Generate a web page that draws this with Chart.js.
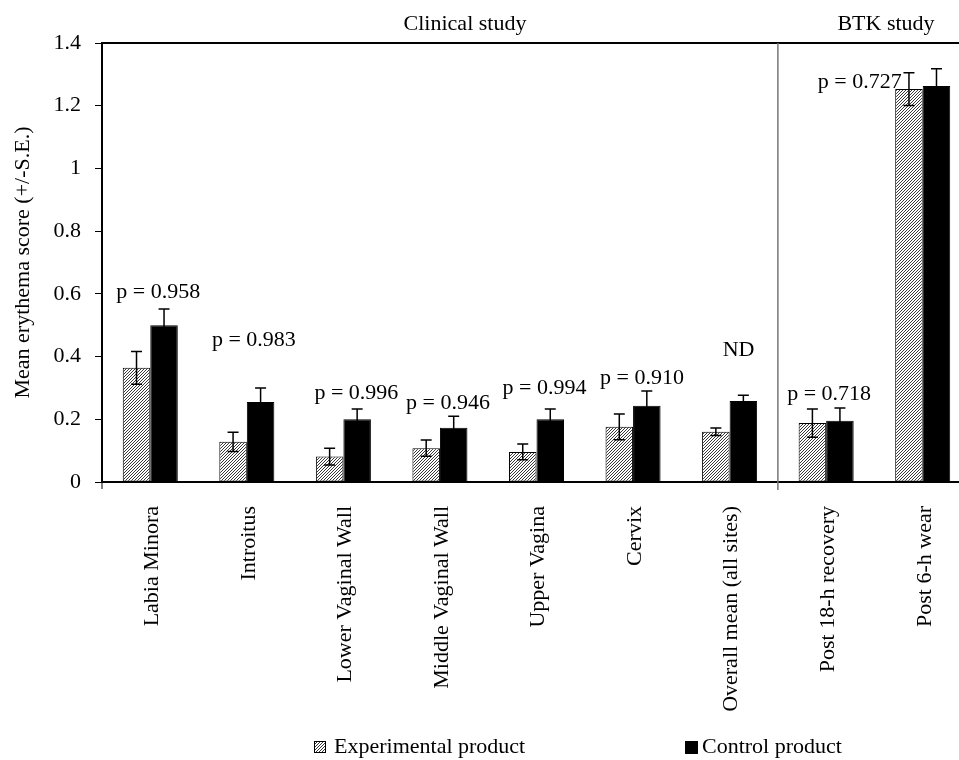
<!DOCTYPE html>
<html>
<head>
<meta charset="utf-8">
<script src="https://cdn.jsdelivr.net/npm/chart.js@4/dist/chart.umd.min.js"></script>
<style>
  body { margin: 0; background: #fff; overflow: hidden; }
  #wrap { width: 959px; height: 760px; overflow: hidden; }
</style>
</head>
<body>
<div id="wrap"><canvas id="barChart" width="971" height="760"></canvas></div>
<script>
/* data */
const categories = ["Labia Minora", "Introitus", "Lower Vaginal Wall", "Middle Vaginal Wall",
  "Upper Vagina", "Cervix", "Overall mean (all sites)", "Post 18-h recovery", "Post 6-h wear"];
const experimental   = [0.364, 0.128, 0.081, 0.108, 0.096, 0.176, 0.160, 0.188, 1.253];
const experimentalSE = [0.052, 0.031, 0.027, 0.026, 0.025, 0.041, 0.012, 0.045, 0.052];
const control        = [0.500, 0.255, 0.200, 0.173, 0.200, 0.243, 0.258, 0.195, 1.263];
const controlSE      = [0.052, 0.045, 0.033, 0.037, 0.033, 0.047, 0.019, 0.041, 0.055];
const pLabels = ["p = 0.958", "p = 0.983", "p = 0.996", "p = 0.946", "p = 0.994",
  "p = 0.910", "ND", "p = 0.718", "p = 0.727"];
const yTicks = ["0", "0.2", "0.4", "0.6", "0.8", "1", "1.2", "1.4"];
const studies = ["Clinical study", "BTK study"];

// where the p labels sit (value units) and a small sideways nudge (px)
const pLabelAt = [0.606, 0.453, 0.284, 0.252, 0.300, 0.332, 0.421, 0.281, 1.276];
const pLabelDx = [8, 7, 13, 8, 8, 9, 9, 3, -63];

const FONT = "'Liberation Serif', 'Times New Roman', serif";

function hatch() {
  const c = document.createElement("canvas");
  c.width = 3; c.height = 3;
  const g = c.getContext("2d");
  g.fillStyle = "#fff";
  g.fillRect(0, 0, 3, 3);
  g.strokeStyle = "#222";
  g.lineWidth = 0.9;
  g.beginPath();
  g.moveTo(0, 3); g.lineTo(3, 0);
  g.moveTo(-1, 1); g.lineTo(1, -1);
  g.moveTo(2, 4); g.lineTo(4, 2);
  g.stroke();
  return g.createPattern(c, "repeat");
}
const hatchFill = hatch();

// error bars, p labels, section line and titles, legend
const extras = {
  id: "extras",
  afterDatasetsDraw(chart) {
    const ctx = chart.ctx;
    const y = chart.scales.y;
    const ses = [experimentalSE, controlSE];
    ctx.save();
    ctx.strokeStyle = "#000";
    ctx.lineWidth = 1.5;
    chart.data.datasets.forEach((ds, di) => {
      chart.getDatasetMeta(di).data.forEach((bar, i) => {
        const v = ds.data[i], se = ses[di][i];
        const top = y.getPixelForValue(v + se), bot = y.getPixelForValue(v - se);
        ctx.beginPath();
        ctx.moveTo(bar.x, top); ctx.lineTo(bar.x, bot);
        ctx.moveTo(bar.x - 5.5, top); ctx.lineTo(bar.x + 5.5, top);
        ctx.moveTo(bar.x - 5.5, bot); ctx.lineTo(bar.x + 5.5, bot);
        ctx.stroke();
      });
    });
    ctx.restore();
  },
  afterDraw(chart) {
    const ctx = chart.ctx;
    const x = chart.scales.x, y = chart.scales.y;
    const area = chart.chartArea;
    ctx.save();
    // top frame line
    ctx.strokeStyle = "#000";
    ctx.lineWidth = 2;
    ctx.beginPath();
    ctx.moveTo(area.left, area.top); ctx.lineTo(chart.width, area.top);
    ctx.stroke();
    // left tick under the x axis
    ctx.lineWidth = 1;
    ctx.beginPath();
    ctx.moveTo(area.left, area.bottom); ctx.lineTo(area.left, area.bottom + 7);
    ctx.stroke();
    // study separator
    const sep = (x.getPixelForValue(6) + x.getPixelForValue(7)) / 2;
    ctx.strokeStyle = "#777";
    ctx.lineWidth = 1.5;
    ctx.beginPath();
    ctx.moveTo(sep, area.top); ctx.lineTo(sep, area.bottom + 8);
    ctx.stroke();

    ctx.fillStyle = "#000";
    ctx.textAlign = "center";
    ctx.textBaseline = "middle";
    ctx.font = "22px " + FONT;
    ctx.fillText(studies[0], 465, 24);
    ctx.fillText(studies[1], 886, 24);

    pLabels.forEach((t, i) => {
      ctx.fillText(t, x.getPixelForValue(i) + pLabelDx[i], y.getPixelForValue(pLabelAt[i]));
    });

    // legend
    const ly = 747;
    ctx.font = "22px " + FONT;
    ctx.textAlign = "left";
    ctx.fillStyle = hatchFill;
    ctx.fillRect(314, ly - 6, 12, 12);
    ctx.strokeStyle = "#000";
    ctx.lineWidth = 1;
    ctx.strokeRect(314.5, ly - 5.5, 11, 11);
    ctx.fillStyle = "#000";
    ctx.fillText(chart.data.datasets[0].label, 334, ly);
    ctx.fillRect(685, ly - 6, 13, 13);
    ctx.fillText(chart.data.datasets[1].label, 702, ly);
    ctx.restore();
  }
};

new Chart(document.getElementById("barChart"), {
  type: "bar",
  data: {
    labels: categories,
    datasets: [
      {
        label: "Experimental product",
        data: experimental,
        backgroundColor: hatchFill,
        borderColor: "#000",
        borderWidth: 1,
        borderSkipped: false
      },
      {
        label: "Control product",
        data: control,
        backgroundColor: "#000",
        borderColor: "#000",
        borderWidth: 1
      }
    ]
  },
  options: {
    responsive: false,
    animation: false,
    layout: { padding: { top: 43, left: 0, right: 0, bottom: 0 } },
    datasets: { bar: { categoryPercentage: 0.57, barPercentage: 1 } },
    plugins: { legend: { display: false }, tooltip: { enabled: false } },
    scales: {
      x: {
        grid: { display: false },
        border: { display: true, color: "#000", width: 2 },
        ticks: {
          color: "#000", font: { family: FONT, size: 22 },
          maxRotation: 90, minRotation: 90, autoSkip: false, padding: 16, labelOffset: 2
        },
        afterFit(scale) { scale.height = 278; }
      },
      y: {
        min: 0, max: 1.4,
        grid: { drawOnChartArea: false, drawTicks: true, tickLength: 7, color: "#000", lineWidth: 1 },
        border: { display: true, color: "#000", width: 2 },
        ticks: {
          stepSize: 0.2, color: "#000", font: { family: FONT, size: 22 }, padding: 14,
          callback: (v, i) => yTicks[i]
        },
        title: {
          display: true, text: "Mean erythema score (+/-S.E.)",
          color: "#000", font: { family: FONT, size: 22 }, padding: { top: 10, bottom: 0 }
        },
        afterFit(scale) { scale.width = 102; }
      }
    }
  },
  plugins: [extras]
});
</script>
</body>
</html>
